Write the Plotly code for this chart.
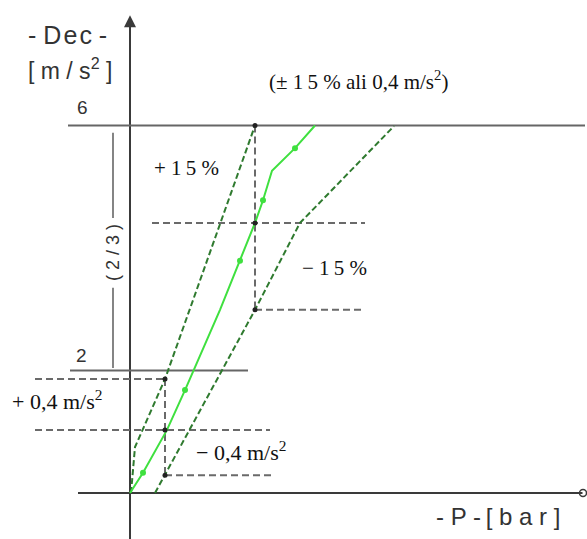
import plotly.graph_objects as go

# ---- data (pressure in bar, deceleration in m/s^2) ----
nominal_p = [0.0, 0.52, 1.48, 2.2, 3.6, 4.4, 5.0, 5.32, 5.68, 6.6, 7.4]
nominal_dec = [0.0, 0.33, 1.03, 1.68, 2.99, 3.79, 4.41, 4.78, 5.26, 5.63, 6.0]
marker_p = [0.52, 2.2, 4.4, 5.32, 6.6]
marker_dec = [0.33, 1.68, 3.79, 4.78, 5.63]

upper_p = [0.04, 0.2, 1.4, 5.0]
upper_dec = [0.0, 0.75, 1.86, 6.0]
lower_p = [1.0, 5.0, 6.8, 10.56]
lower_dec = [0.0, 2.99, 4.41, 5.99]

# reference (grey dashed) guide lines: (p0, p1, dec0, dec1)
guide_segments = [
    (0.88, 9.4, 4.41, 4.41),
    (5.0, 9.4, 2.99, 2.99),
    (5.0, 5.0, 6.0, 2.99),
    (-3.8, 1.4, 1.86, 1.86),
    (-3.8, 5.6, 1.03, 1.03),
    (1.4, 5.8, 0.29, 0.29),
    (1.4, 1.4, 1.86, 0.29),
]
cross_p = [5.0, 5.0, 5.0, 1.4, 1.4, 1.4]
cross_dec = [6.0, 4.41, 2.99, 1.86, 1.03, 0.29]

# solid frame lines: (p0, p1, dec0, dec1)
frame_segments = [
    (0.0, 0.0, -0.76, 7.5),      # y axis
    (-2.08, 18.1, 0.0, 0.0),     # x axis
    (-2.48, 18.2, 6.0, 6.0),     # dec = 6 level
    (-2.4, 4.72, 2.0, 2.0),      # dec = 2 level
    (-0.68, -0.68, 5.88, 4.49),  # (2/3) bracket top
    (-0.68, -0.68, 3.35, 2.04),  # (2/3) bracket bottom
]

SANS = "Liberation Sans, Arial, sans-serif"
SERIF = "Liberation Serif, Times New Roman, serif"
GREEN = "#3fe03f"
DKGREEN = "#2f7a2f"
GREY = "#6a6a6a"
AXIS = "#3a3a3a"

fig = go.Figure()

for i, (x0, x1, y0, y1) in enumerate(frame_segments):
    col = AXIS if i < 2 else "#666666"
    fig.add_trace(go.Scatter(x=[x0, x1], y=[y0, y1], mode="lines",
                             line=dict(color=col, width=2 if i < 4 else 1.6),
                             hoverinfo="skip", showlegend=False))

for (x0, x1, y0, y1) in guide_segments:
    fig.add_trace(go.Scatter(x=[x0, x1], y=[y0, y1], mode="lines",
                             line=dict(color=GREY, width=2, dash="7px,4px"),
                             hoverinfo="skip", showlegend=False))

fig.add_trace(go.Scatter(x=upper_p, y=upper_dec, mode="lines",
                         line=dict(color=DKGREEN, width=2, dash="6px,3px"),
                         showlegend=False))
fig.add_trace(go.Scatter(x=lower_p, y=lower_dec, mode="lines",
                         line=dict(color=DKGREEN, width=2, dash="6px,3px"),
                         showlegend=False))
fig.add_trace(go.Scatter(x=nominal_p, y=nominal_dec, mode="lines",
                         line=dict(color=GREEN, width=2), showlegend=False))
fig.add_trace(go.Scatter(x=marker_p, y=marker_dec, mode="markers",
                         marker=dict(color=GREEN, size=6), showlegend=False))
fig.add_trace(go.Scatter(x=cross_p, y=cross_dec, mode="markers",
                         marker=dict(color="#222222", size=5), showlegend=False))
# x-axis end circle
fig.add_trace(go.Scatter(x=[18.12], y=[0], mode="markers",
                         marker=dict(symbol="circle-open", color=AXIS, size=7,
                                     line=dict(width=1.5)),
                         showlegend=False))

TS = "\u2009"
HS = "\u200a"
annots = [
    dict(x=-2.52, y=7.48, text=f"- D{HS}e{HS}c -", font=dict(family=SANS, size=25, color="#333")),
    dict(x=-2.4, y=6.92, text="[ m / s<sup>2</sup> ]", font=dict(family=SANS, size=23, color="#333")),
    dict(x=-1.92, y=6.29, text="6", font=dict(family=SANS, size=19, color="#333")),
    dict(x=-1.96, y=2.25, text="2", font=dict(family=SANS, size=19, color="#333")),
    dict(x=14.72, y=-0.38, text=f"- P -{TS}[ b a r ]", font=dict(family=SANS, size=24, color="#333")),
    dict(x=-0.68, y=3.92, text="( 2 / 3 )", textangle=-90, font=dict(family=SANS, size=18, color="#333"),
         bgcolor="white"),
    dict(x=9.12, y=6.74, text=f"(± 1{TS}5 % ali 0,4 m/s<sup>2</sup>)", font=dict(family=SERIF, size=21, color="#111")),
    dict(x=2.24, y=5.31, text=f"+ 1{TS}5 %", font=dict(family=SERIF, size=21, color="#111")),
    dict(x=8.16, y=3.67, text=f"− 1{TS}5 %", font=dict(family=SERIF, size=21, color="#111")),
    dict(x=-2.92, y=1.52, text="+ 0,4 m/s<sup>2</sup>", font=dict(family=SERIF, size=22, color="#111")),
    dict(x=4.44, y=0.69, text="− 0,4 m/s<sup>2</sup>", font=dict(family=SERIF, size=22, color="#111")),
]
for a in annots:
    a.update(xref="x", yref="y", showarrow=False, xanchor="center", yanchor="middle")
    fig.add_annotation(**a)

# y-axis arrow head
fig.add_annotation(x=0, y=7.8, ax=0, ay=7.3, xref="x", yref="y", axref="x", ayref="y",
                   text="", showarrow=True, arrowhead=2, arrowsize=1.2, arrowwidth=2,
                   arrowcolor=AXIS)

fig.update_layout(
    width=587, height=539, autosize=False,
    margin=dict(l=0, r=0, t=0, b=0),
    paper_bgcolor="white", plot_bgcolor="white",
    hovermode=False,
    xaxis=dict(range=[-5.2, 18.28], visible=False, fixedrange=True),
    yaxis=dict(range=[-0.751, 8.049], visible=False, fixedrange=True),
)

fig.write_html("out.html", config={"displayModeBar": False},
               post_script="document.body.style.margin='0';document.body.style.overflow='hidden';")
